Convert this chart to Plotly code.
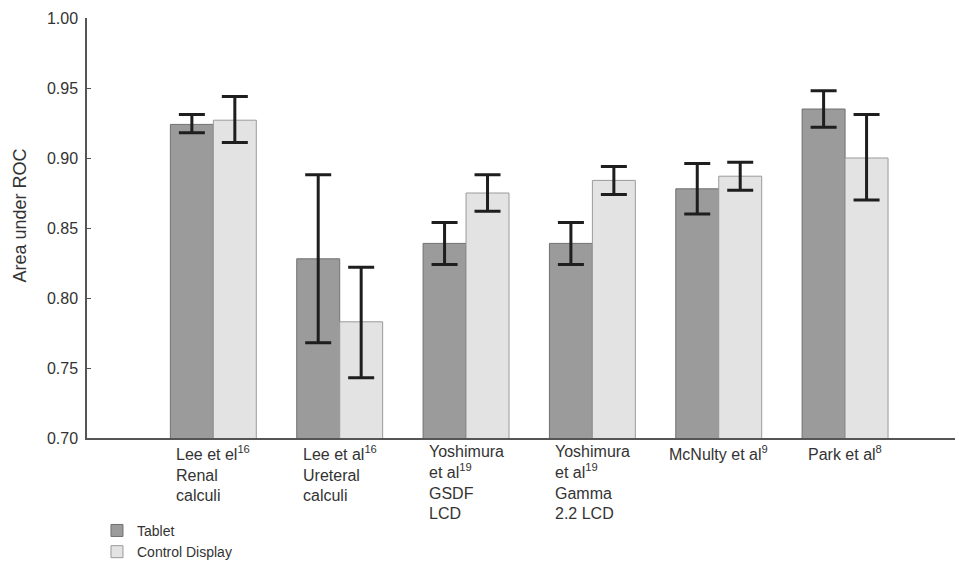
import plotly.graph_objects as go

categories = [
    "Lee et el<sup>16</sup><br>Renal<br>calculi",
    "Lee et al<sup>16</sup><br>Ureteral<br>calculi",
    "Yoshimura<br>et al<sup>19</sup><br>GSDF<br>LCD",
    "Yoshimura<br>et al<sup>19</sup><br>Gamma<br>2.2 LCD",
    "McNulty et al<sup>9</sup>",
    "Park et al<sup>8</sup>",
]
tablet = [0.924, 0.828, 0.839, 0.839, 0.878, 0.935]
tablet_lo = [0.918, 0.768, 0.824, 0.824, 0.860, 0.922]
tablet_hi = [0.931, 0.888, 0.854, 0.854, 0.896, 0.948]
control = [0.927, 0.783, 0.875, 0.884, 0.887, 0.900]
control_lo = [0.911, 0.743, 0.862, 0.874, 0.877, 0.870]
control_hi = [0.944, 0.822, 0.888, 0.894, 0.897, 0.931]
y_ticks = [0.70, 0.75, 0.80, 0.85, 0.90, 0.95, 1.00]

FONT = "Liberation Sans, Arial, sans-serif"
TXT = "#333333"
xs = list(range(len(categories)))


def err(vals, lo, hi):
    return dict(
        type="data", symmetric=False,
        array=[h - v for v, h in zip(vals, hi)],
        arrayminus=[v - l for v, l in zip(vals, lo)],
        color="#1e1e1e", thickness=3, width=13,
    )


fig = go.Figure()
fig.add_trace(go.Bar(
    x=xs, y=tablet, name="Tablet",
    marker=dict(color="#9b9b9b", line=dict(color="#707070", width=1)),
    error_y=err(tablet, tablet_lo, tablet_hi),
))
fig.add_trace(go.Bar(
    x=xs, y=control, name="Control Display",
    marker=dict(color="#e3e3e3", line=dict(color="#9a9a9a", width=1)),
    error_y=err(control, control_lo, control_hi),
))

for i, lab in enumerate(categories):
    fig.add_annotation(
        x=i, y=0, xref="x", yref="paper", yanchor="top", xanchor="center",
        text=lab, align="left", showarrow=False, yshift=-3,
        font=dict(family=FONT, size=16, color=TXT),
    )

fig.add_annotation(
    x=-0.077, y=0.53, xref="paper", yref="paper", text="Area under ROC",
    textangle=-90, showarrow=False, xanchor="center", yanchor="middle",
    font=dict(family=FONT, size=18, color=TXT),
)

fig.update_layout(
    width=959, height=561,
    margin=dict(l=87, r=4, t=18, b=123, autoexpand=False),
    plot_bgcolor="white", paper_bgcolor="white",
    barmode="group", bargap=0.32, bargroupgap=0,
    font=dict(family=FONT, size=15, color=TXT),
    showlegend=True,
    legend=dict(
        x=0.0115, y=-0.183, xanchor="left", yanchor="top",
        font=dict(family=FONT, size=14, color=TXT),
        tracegroupgap=0, itemwidth=30, bgcolor="rgba(0,0,0,0)",
    ),
    xaxis=dict(
        range=[-1.0, 5.87], showticklabels=False, ticks="",
        showline=True, linecolor="#555555", linewidth=1.5,
        showgrid=False, zeroline=False,
    ),
    yaxis=dict(
        range=[0.70, 1.00], tickvals=y_ticks, tickformat=".2f",
        ticks="inside", ticklen=4, tickcolor="#555555",
        showline=True, linecolor="#555555", linewidth=1.5,
        showgrid=False, zeroline=False, ticklabelstandoff=4,
        tickfont=dict(family=FONT, size=16, color=TXT),
    ),
)

fig.write_html(
    "out.html",
    config={"displayModeBar": False},
    post_script="document.body.style.margin='0px';document.body.style.overflow='hidden';",
)
